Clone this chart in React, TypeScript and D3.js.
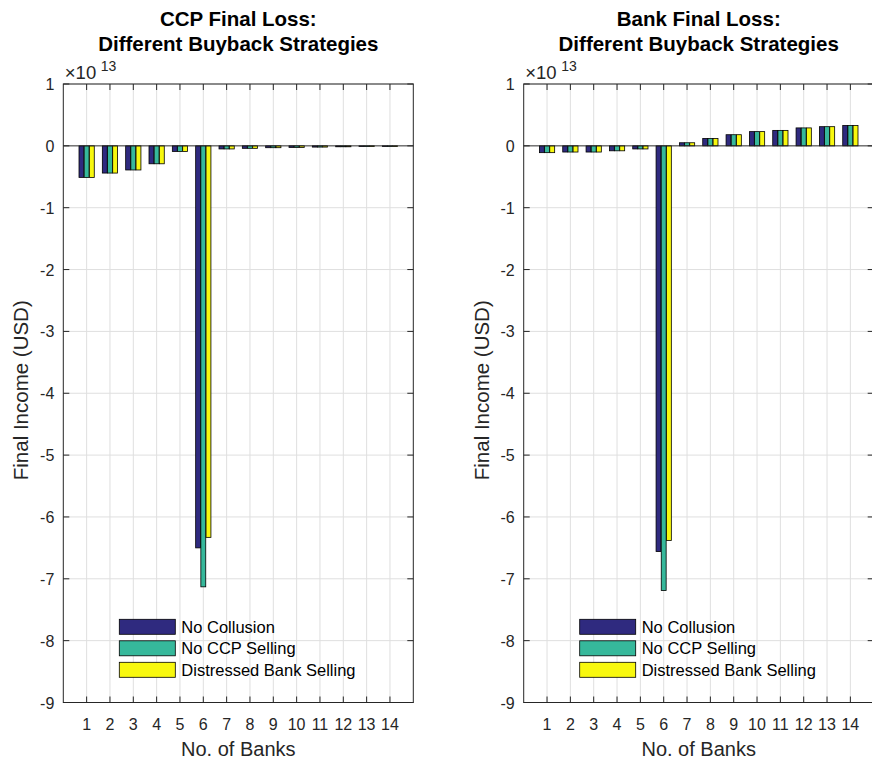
import React from "react";
import * as d3 from "d3";

const categories = [1, 2, 3, 4, 5, 6, 7, 8, 9, 10, 11, 12, 13, 14];
const seriesNames = ["No Collusion", "No CCP Selling", "Distressed Bank Selling"];
const seriesColors = ["#2f2a7f", "#36b89b", "#f8f80e"];
const yTicks = [1, 0, -1, -2, -3, -4, -5, -6, -7, -8, -9];

// values in units of 1e13
const ccpNoCollusion = [-0.51, -0.44, -0.39, -0.29, -0.09, -6.5, -0.05, -0.04, -0.03, -0.025, -0.02, -0.015, -0.012, -0.01];
const ccpNoCCPSelling = [-0.51, -0.44, -0.39, -0.29, -0.09, -7.13, -0.05, -0.04, -0.03, -0.025, -0.02, -0.015, -0.012, -0.01];
const ccpDistressed = [-0.51, -0.44, -0.39, -0.29, -0.09, -6.33, -0.05, -0.04, -0.03, -0.025, -0.02, -0.015, -0.012, -0.01];

const bankNoCollusion = [-0.11, -0.1, -0.1, -0.08, -0.05, -6.56, 0.05, 0.12, 0.18, 0.23, 0.25, 0.29, 0.31, 0.33];
const bankNoCCPSelling = [-0.11, -0.1, -0.1, -0.08, -0.05, -7.19, 0.05, 0.12, 0.18, 0.23, 0.25, 0.29, 0.31, 0.33];
const bankDistressed = [-0.11, -0.1, -0.1, -0.08, -0.05, -6.38, 0.05, 0.12, 0.18, 0.23, 0.25, 0.29, 0.31, 0.33];

const FONT = "'Liberation Sans', Arial, Helvetica, sans-serif";
const AX = "#262626";
const GRID = "#dfdfdf";

const W = 350;
const H = 618.5;

function Panel({ left, top, title, series }: { left: number; top: number; title: string[]; series: number[][] }) {
  const x = d3.scaleLinear().domain([0, 15]).range([0, W]);
  const y = d3.scaleLinear().domain([-9, 1]).range([H, 0]);
  const offs = d3.scalePoint<number>().domain([0, 1, 2]).range([-0.222, 0.222]);
  const bw = x(0.21) - x(0);
  const cx = W / 2;
  const tickLen = 6;
  return (
    <g transform={`translate(${left},${top})`}>
      {/* title */}
      <text x={cx} y={-58} textAnchor="middle" fontWeight="bold" fontSize={20.5} fill="#000" fontFamily={FONT}>{title[0]}</text>
      <text x={cx} y={-33} textAnchor="middle" fontWeight="bold" fontSize={20.5} fill="#000" fontFamily={FONT}>{title[1]}</text>
      {/* grid */}
      {categories.map((c) => (
        <line key={"gx" + c} x1={x(c)} x2={x(c)} y1={0} y2={H} stroke={GRID} strokeWidth={1} />
      ))}
      {yTicks.map((t) => (
        <line key={"gy" + t} x1={0} x2={W} y1={y(t)} y2={y(t)} stroke={GRID} strokeWidth={1} />
      ))}
      {/* bars */}
      {series.map((vals, si) =>
        vals.map((v, i) => {
          const xc = x(categories[i] + (offs(si) as number));
          const y0 = y(0);
          const y1 = y(v);
          return (
            <rect key={`b${si}-${i}`} x={xc - bw / 2} y={Math.min(y0, y1)} width={bw} height={Math.abs(y1 - y0)}
              fill={seriesColors[si]} stroke="#000" strokeWidth={0.8} />
          );
        })
      )}
      {/* baseline */}
      <line x1={0} x2={W} y1={y(0)} y2={y(0)} stroke={AX} strokeWidth={0.9} />
      {/* box */}
      <rect x={0} y={0} width={W} height={H} fill="none" stroke={AX} strokeWidth={1} />
      {/* ticks */}
      {categories.map((c) => (
        <g key={"tx" + c}>
          <line x1={x(c)} x2={x(c)} y1={H} y2={H - tickLen} stroke={AX} strokeWidth={1} />
          <line x1={x(c)} x2={x(c)} y1={0} y2={tickLen} stroke={AX} strokeWidth={1} />
          <text x={x(c)} y={H + 27} textAnchor="middle" fontSize={16} fill={AX} fontFamily={FONT}>{c}</text>
        </g>
      ))}
      {yTicks.map((t) => (
        <g key={"ty" + t}>
          <line x1={0} x2={tickLen} y1={y(t)} y2={y(t)} stroke={AX} strokeWidth={1} />
          <line x1={W} x2={W - tickLen} y1={y(t)} y2={y(t)} stroke={AX} strokeWidth={1} />
          <text x={-9} y={y(t) + 6} textAnchor="end" fontSize={16} fill={AX} fontFamily={FONT}>{t}</text>
        </g>
      ))}
      {/* exponent */}
      <text x={1.5} y={-5} fontSize={18.5} fill={AX} fontFamily={FONT}>
        ×10
      </text>
      <text x={37.5} y={-13} fontSize={14} fill={AX} fontFamily={FONT}>13</text>
      {/* axis labels */}
      <text x={cx} y={H + 53} textAnchor="middle" fontSize={20} fill={AX} fontFamily={FONT}>No. of Banks</text>
      <text transform={`translate(${-35},${H / 2 - 3}) rotate(-90)`} textAnchor="middle" fontSize={20.5} fill={AX} fontFamily={FONT}>
        Final Income (USD)
      </text>
      {/* legend */}
      {seriesNames.map((n, i) => (
        <g key={"lg" + i} transform={`translate(56,${535.3 + i * 21.5})`}>
          <rect x={0} y={0} width={56} height={15} fill={seriesColors[i]} stroke="#000" strokeWidth={0.8} />
          <text x={62} y={13.5} fontSize={16.5} fill="#000" fontFamily={FONT}>{n}</text>
        </g>
      ))}
    </g>
  );
}

export default function App() {
  return (
    <svg width={872} height={762} style={{ position: "absolute", left: 0, top: 0, background: "#fff" }}>
      <rect x={0} y={0} width={872} height={762} fill="#fff" />
      <Panel left={63.3} top={84} title={["CCP Final Loss:", "Different Buyback Strategies"]}
        series={[ccpNoCollusion, ccpNoCCPSelling, ccpDistressed]} />
      <Panel left={523.7} top={84} title={["Bank Final Loss:", "Different Buyback Strategies"]}
        series={[bankNoCollusion, bankNoCCPSelling, bankDistressed]} />
    </svg>
  );
}
